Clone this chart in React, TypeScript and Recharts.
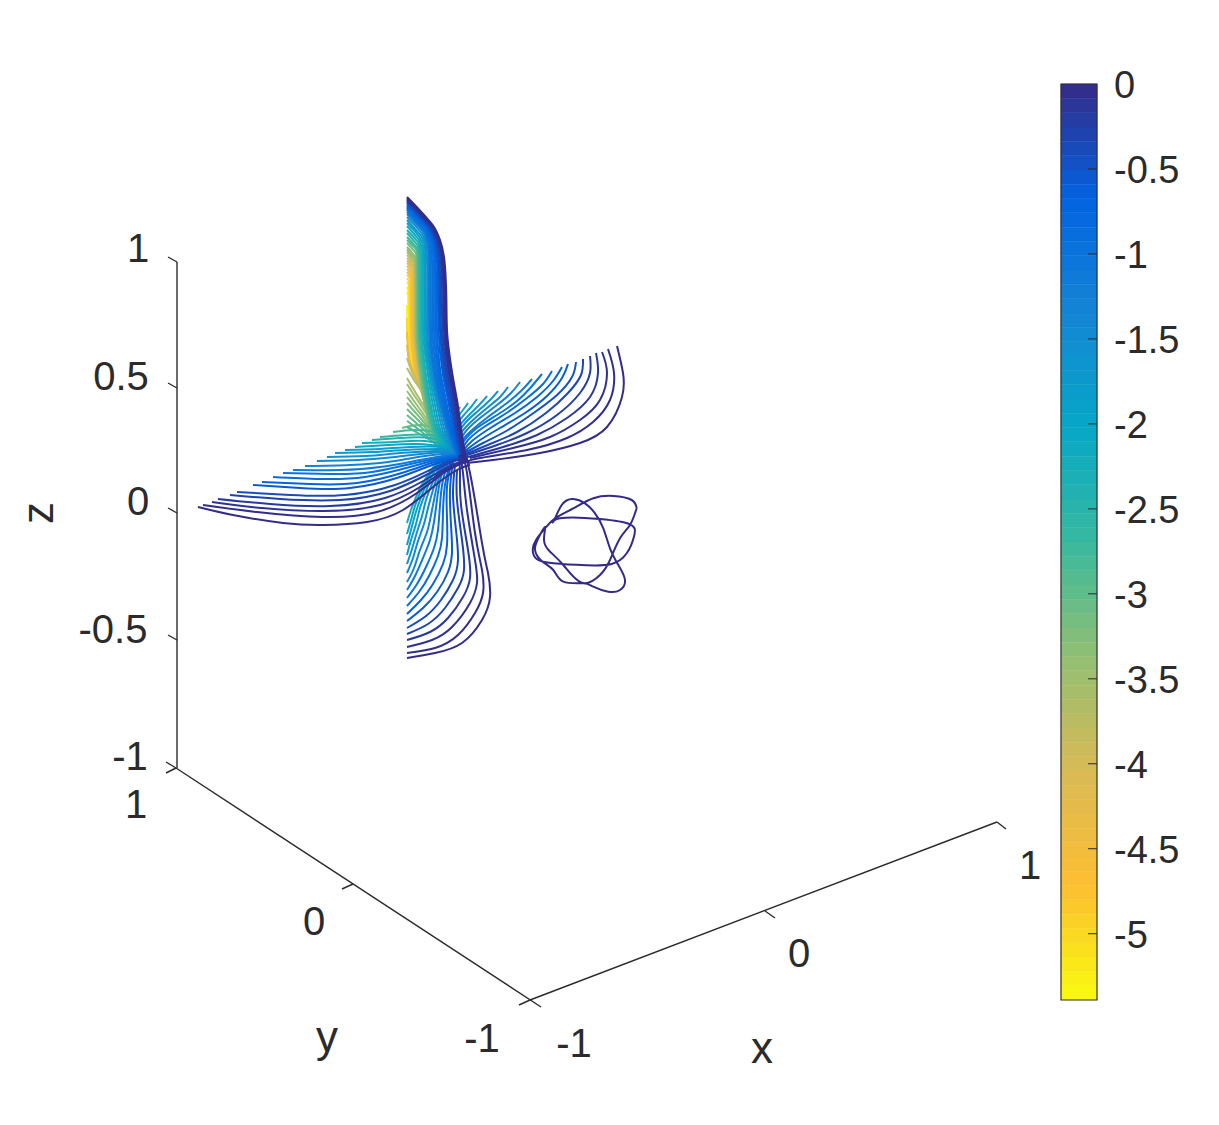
import React from "react";
import { ComposedChart, Line, XAxis, YAxis, ReferenceArea, ReferenceDot } from "recharts";

// Colour scale stops, light (low) to dark (0)
const scaleStops = ["#f9fb0e", "#fdbe32", "#d9ba56", "#92bf73", "#38b99e", "#06a7c6", "#1485d4", "#0363e1", "#352a87"];
const scaleMin = -5.39;
const colorbarTicks = [0, -0.5, -1, -1.5, -2, -2.5, -3, -3.5, -4, -4.5, -5];
const colorbarEnds = [0, -5.39];

// Projected curves (x,y pairs in the picture's plane) and their levels
const topLevels = [-0.02, -0.06, -0.12, -0.2, -0.3, -0.4, -0.5, -0.62, -0.75, -0.85, -0.92, -0.96, -1, -1.15, -1.3, -1.5, -1.7, -1.9, -2.1, -2.3, -2.5, -2.7, -2.9, -3.1, -3.3, -3.45, -3.6, -3.75, -3.9, -4.05, -4.2, -4.35, -4.5, -4.65, -4.8, -4.95, -5.1, -5.25, -5.39, -5.3, -5, -4.6, -4.2, -3.9, -3.7, -3.6, -3.5, -3.4, -3.3, -3.2, -3.1, -3, -2.9, -2.8];
const topCurves = [
  [407,197,424,215,434,227,440,240,444,257,446,285,447,330,452.5,375,457,400,462,435,466,460],
  [407,198,423.4,215.6,433.5,227,439.4,240,442.9,256.5,444.8,284,446,330,451,375,456,400,461,435,465,460],
  [407,199,423,216,432.8,227.5,438.5,240,442,256,443.9,283,445,330,450,375,455,400,460,435,464,460],
  [407,200,422.5,217,432,228,437.7,240,441,255.5,442.9,281,444,330,449,375,454,400,459,435,463,460],
  [407,201,422,217,431,227.6,436.5,239,439.7,254,441.4,279,442.5,330,447.5,375,452.5,400,458,435,463,460],
  [407,202,421.3,217.3,430,227.5,435.2,238.7,438.3,253,440,277,441,330,446,375,451,400,457,435,462,460],
  [407,203,420.9,218,429.4,227.8,434.4,238.6,437.4,252.5,439,276,440,330,444.5,375,449.5,400,456,435,462,460],
  [407,204.5,420.2,218.7,428.4,228,433.1,238.5,436,252,437.6,274,438.5,330,443,375,448,400,454.5,435,461,460],
  [407,206,419.6,219.5,427.4,228.5,431.9,238.4,434.6,251,436,272,437,330,441,375,446,400,453,435,460,460],
  [407,207,419.2,220.2,426.9,229,431.2,238.6,433.8,251,435,271,435.5,330,439.5,375,444.5,400,452,435,460,460],
  [407,208,418.9,220.8,426.2,229.4,430.3,238.8,432.7,250.8,433.7,270.5,434,330,438.5,375,443.5,400,451.5,435,459.5,460],
  [407,209,418.4,221.4,425.6,229.8,429.4,239,431.4,250.6,432.2,270,432.5,330,437,375,442.3,400,451.2,435,459.2,460],
  [407,210,418,222,425,230.3,428.5,239,430,250.5,430.7,269,431,330,435.5,375,441,400,451,435,459,460],
  [407,212,417.5,223.5,424,231,427.5,240,429,250,429.7,268,430,330,434.5,375,440,400,449.5,435,458,460],
  [407,214,417,224.8,423,232,426.3,240,428,250,428.7,267,429,330,433.5,375,439,400,448,435,457,460],
  [407,217,416.5,227,422,234,425,241,426.5,251,427.2,266.5,427.5,330,432,375,437.5,400,446,435,456,460],
  [407,220,416,230,421,236,424,243,425.3,252,425.7,290,426,330,431,375,436,400,444,435,455,460],
  [407,223,415.5,232,420,238,423,246,424,254,424.3,290,424.5,330,429.5,375,434,400,442,435,454,460],
  [407,226,415,235,419,240,421.5,247,422.6,255,422.8,290,423,330,428,375,432,400,440,435,452,460],
  [407,230,414.5,238,418.5,243,420.5,250,421.2,258,421.3,290,421.5,330,426,375,430,400,438,435,450,460],
  [407,233,414,241,417.5,245,419.3,252,419.8,260,419.9,290,420,330,424.5,375,428.5,400,436.5,435,448,460],
  [407,237,413.5,244,417,248,418.5,255,418.8,290,419,330,423.5,375,427,400,435,435,446,460],
  [407,240,413,246,416.3,250,417.5,256,417.8,290,418,330,422,375,426,400,434,435,446,460],
  [407,243,412.5,249,415.7,253,416.6,259,416.8,290,417,330,421,375,425,400,433,435,445,460],
  [407,247,412.3,253,415,257,416,263,416.1,290,416.3,330,420.5,375,424,400,433,435,445,460],
  [407,249.5,412,255.5,414.8,259,415.7,265,415.9,290,416,330,420.2,375,424,400,433,435,445,460],
  [407,252,412,257.5,414.6,261,415.3,267,415.5,290,415.6,330,420,375,424,400,433,435,445,460],
  [407,255,411.8,260,414.3,263.5,415,269,415.1,290,415.2,330,419.5,375,424,400,433,435,445,460],
  [407,258,411.6,262.5,413.9,266,414.5,272,414.7,290,414.8,330,419,375,424,400,433,435,445,460],
  [407,260.5,411.3,265,413.4,268,414,274,414.3,290,414.4,330,418.5,375,424,399,433,435,445,460],
  [407,263,411,267,413,270,413.5,276,413.8,290,414,330,418,375,424,398,433,435,445,460],
  [407,266,410.5,269.5,412.5,272.5,412.9,278.5,413.1,290,413.2,330,417.5,375,424,397.5,433,435,445,460],
  [407,269,410,272,412,275,412.3,281,412.4,290,412.5,330,417,375,424,397,433,435,445,460],
  [407,272,409.5,274.5,411.2,277.5,411.5,283,411.6,292,411.7,330,416.2,374,424,396.5,433,435,445,460],
  [407,275,409,277,410.5,280,410.8,285,410.9,295,411,330,415.5,373,424,396,433,435,445,460],
  [407,278.5,408.8,280.5,409.8,283.5,410,296,410.2,330,414.8,371.5,424,395.5,433,435,445,460],
  [407,282,408.5,284,409,287,409.3,300,409.5,330,414,370,424,395,433,435,445,460],
  [407,287,408.2,290,408.6,295,408.8,310,409,330,413.5,369,424,394.5,433,435,445,460],
  [407,292,408,296,408.3,310,408.5,330,413,368,424,394,433,435,445,460],
  [407,305,407.3,315,407.5,330,411,365,423,393,433,432,445,460],
  [407,318,407.5,335,410,361,422,392,433,432,445,460],
  [407,332,409,358,421,390,432,430,445,460],
  [407,345,409,360,420,388,432,428,445,460],
  [407,358,412,372,420,387,432,426,445,460],
  [407,368,414,380,422,392,433,424,445,460],
  [407,378,414,390,422,403,432,420,445,442,458,458],
  [407,384,414,395,422,407,432,423,445,444,458,458],
  [407,391,414,401,422,412,432,427,445,446,458,458],
  [407,397,414,406,422,416,432,430,445,447,458,458],
  [407,403,414,411,422,420,432,433,445,449,458,458],
  [407,409,414,416,422,424,432,436,445,450,458,458],
  [407,415,414,421,422,428,432,438,445,451,458,458],
  [407,421,414,426,422,432,432,441,445,452,458,458],
  [407,427,418,433,430,440,445,450,458,458],
];

const bottomLevels = [-0.02, -0.05, -0.1, -0.18, -0.28, -0.4, -0.55, -0.7, -0.85, -1, -1.15, -1.3, -1.45, -1.6, -1.75, -1.9, -2.05, -2.2];
const bottomCurves = [
  [462,455,470,473,482,543,488,573,490,597,482,620,462,643,435,653,407,658],
  [461,455,467,473,475,533,482,570,483,593,475,613,458,635,435,648,407,653],
  [460,455,463,473,467,510,475,560,477,583,470,603,452,627,432,640,407,647],
  [459,455,460,475,461,505,468,550,470,578,463,597,448,618,430,632,407,640],
  [457,470,457,500,462,540,464,570,458,588,445,608,428,624,407,634],
  [455,465,453,495,456,530,458,560,453,580,441,600,426,616,407,628],
  [453,462,450,490,451,525,452,552,448,572,437,592,423,608,407,621],
  [452,460,447,487,447,518,447,545,443,564,433,584,421,600,407,614],
  [451,460,445,485,443,512,442,538,438,556,429,576,419,592,407,606],
  [450,458,443,480,440,505,438,530,434,548,426,567,417,584,407,598],
  [449,457,441,477,437,500,434,522,430,540,423,558,415,576,407,590],
  [448,456,440,474,435,495,431,515,427,532,420,550,414,568,407,582],
  [447,456,439,472,433,490,428,508,424,524,418,541,413,558,407,573],
  [446,455,438,470,432,484,426,500,422,516,417,532,412,549,407,564],
  [445,454,437,467,431,478,425,494,420,508,416,524,411,540,407,555],
  [437,464,431,473,425,487,420,500,415,515,411,530,407,545],
  [440,460,432,469,426,480,420,493,415,506,411,520,407,534],
  [444,457,436,465,428,475,421,486,416,497,411,510,407,523],
];

const leftLevels = [-0.02, -0.05, -0.1, -0.18, -0.28, -0.4, -0.55, -0.7, -0.85, -1, -1.15, -1.3, -1.45, -1.6, -1.75, -1.9, -2.05, -2.2, -2.4, -2.6, -2.8, -3.1];
const leftCurves = [
  [198,507,233,515,283,523,323,525,367,522,403,510,433,487,457,470,470,465],
  [203,505,257,512,323,517,377,512,417,493,445,472,468,461],
  [212,502,262,508,323,511,380,505,420,487,447,469,468,460],
  [218,499,270,504,330,506,385,498,425,480,450,466,468,459],
  [230,495,280,499,340,500,390,491,428,474,452,462,468,458],
  [237,492,290,495,345,495,395,485,430,470,453,460,468,457],
  [253,485,300,488,350,488,400,477,435,464,468,456],
  [262,482,310,484,357,483,405,472,438,461,468,455],
  [273,477,320,479,365,477,410,467,440,459,468,454],
  [283,473,330,474,372,472,415,463,445,457,468,453],
  [293,470,340,470,380,467,420,460,450,455,468,453],
  [305,466,350,465,388,462,425,456,468,452],
  [317,461,358,460,395,457,430,453,468,451],
  [327,457,365,456,400,453,435,451,468,450],
  [335,453,372,452,405,450,440,449,468,450],
  [345,450,380,449,410,447,445,447,468,450],
  [355,447,388,445,418,444,450,447],
  [362,443,395,442,425,441,455,447],
  [372,440,400,438,430,438,458,448],
  [380,437,405,435,435,436,460,449],
  [393,432,415,430,440,434,462,450],
  [402,428,422,425,445,434,464,452],
];

const rightLevels = [-0.02, -0.05, -0.1, -0.16, -0.24, -0.34, -0.46, -0.6, -0.74, -0.88, -1.02, -1.16, -1.3, -1.45, -1.6, -1.75, -1.9, -2.1, -2.3];
const rightCurves = [
  [617,346,623,373,622,397,607,427,580,443,540,453,493,460,467,463],
  [608,349,614,373,610,400,593,422,567,438,527,450,480,458,467,462],
  [602,352,607,373,600,400,580,420,550,437,513,448,470,458],
  [596,353,598,373,590,397,567,418,537,435,503,447,468,457],
  [590,356,590,373,580,393,557,415,527,433,497,445,467,455],
  [583,359,581,375,568,393,546,413,517,432,490,444,466,454],
  [576,362,572,377,557,395,535,412,508,430,483,443,465,453],
  [568,364,562,378,547,396,525,413,500,428,477,442,464,452],
  [562,367,553,381,537,397,515,413,492,427,472,441,463,451],
  [552,371,543,384,527,398,505,414,484,427,468,440,462,450],
  [542,374,532,386,517,401,497,415,477,428,464,441,460,450],
  [532,379,522,390,507,403,488,417,472,430,461,442,459,450],
  [520,382,511,393,497,405,480,418,466,431,458,444],
  [508,387,500,397,487,408,473,420,461,433,456,445],
  [498,391,490,400,478,411,466,422,457,435,454,446],
  [487,396,480,404,470,414,460,425,453,437,452,447],
  [477,399,471,407,463,416,455,427,450,438],
  [468,403,463,410,456,419,450,429,448,440],
  [460,407,455,414,450,422,446,432,445,442],
];

const knotCurve = [
  636.7,508.3,631.7,500,613.3,496,593.3,498.3,573.3,508.3,555,518.3,545,528.3,536,540,532.7,550,536.7,559,553.3,563.3,586.7,565.3,611.7,564,626.7,553.3,634.3,535.2,630,524.3,600,519,560,518.3,553.3,521.7,561.7,505,573.3,499,585,503.3,595,513.3,603.3,528.3,610,548.3,618.3,565,625,580,620,590,608.3,591.7,593.3,586.7,583.3,583.3,563.3,581.7,553.3,570,541.7,561,535,550,538.3,538.3,545,526.7,544,540,550,551.7,563.3,565,581.7,582.7,600,575,610,560,620,538.3,630,525,636.7,508.3,
];

// Box axes and their ticks, as x1,y1,x2,y2 in the same plane
const axisSegments = [
  [177,262,177,768], [176,768,541,1007], [530,1000,997,822],
  [168,257,177,262], [168,383,177,388], [168,508,177,513], [168,635,177,640], [166,773,176,768], [166,762,176,768],
  [342,889,353,884], [519,1005,530,1000], [765,911,775,918], [997,822,1006,829],
];

const tickLabelText = ["1", "0.5", "0", "-0.5", "-1", "1", "0", "-1", "-1", "0", "1"];
const tickLabelX = [138, 121, 138, 113, 130, 136, 314, 482, 574, 799, 1030];
const tickLabelY = [248, 376, 501, 629, 756, 804, 921, 1038, 1043, 953, 865];
const axisLetters = ["x", "y", "z"];
const axisLetterX = [762, 327, 37];
const axisLetterY = [1047, 1036, 513];

const FONT = "'Liberation Sans', Arial, sans-serif";
const INK = "#2b2b2b";

function hexToRgb(h: string) {
  return [1, 3, 5].map((i) => parseInt(h.slice(i, i + 2), 16));
}
function colorOf(v: number) {
  const t = Math.min(1, Math.max(0, (v - scaleMin) / -scaleMin)) * (scaleStops.length - 1);
  const i = Math.min(scaleStops.length - 2, Math.floor(t));
  const a = hexToRgb(scaleStops[i]);
  const b = hexToRgb(scaleStops[i + 1]);
  const f = t - i;
  const c = a.map((p, k) => Math.round(p + (b[k] - p) * f));
  return `rgb(${c[0]},${c[1]},${c[2]})`;
}
function toPoints(flat: number[]) {
  const out: { px: number; py: number }[] = [];
  for (let i = 0; i < flat.length; i += 2) out.push({ px: flat[i], py: flat[i + 1] });
  return out;
}

const families: [number[], number[][], string][] = [
  [topLevels, topCurves, "monotoneY"],
  [bottomLevels, bottomCurves, "natural"],
  [leftLevels, leftCurves, "natural"],
  [rightLevels, rightCurves, "natural"],
];
const curves = families
  .flatMap(([levels, paths, kind]) => paths.map((p, i) => ({ v: levels[i], kind, data: toPoints(p) })))
  .sort((a, b) => a.v - b.v);

const bands = Array.from({ length: 64 }, (_, i) => ({
  hi: (scaleMin * i) / 64,
  lo: (scaleMin * (i + 1)) / 64,
  fill: colorOf((scaleMin * (i + 0.5)) / 64),
}));
const colorbarData = colorbarEnds.map((v, i) => ({ pos: i, v }));

function ColorbarTick(props: any) {
  const { x, y, payload } = props;
  const v = payload.value;
  return (
    <g>
      {v !== 0 && <line x1={x - 9} x2={x} y1={y} y2={y} stroke={INK} strokeWidth={1} />}
      <text x={x + 17} y={y + 14} fontFamily={FONT} fontSize={38} fill={INK}>
        {String(v)}
      </text>
    </g>
  );
}

export default function App() {
  return (
    <div style={{ position: "absolute", left: 0, top: 0, width: 1219, height: 1125, background: "#fff" }}>
      <div style={{ position: "absolute", left: 0, top: 0 }}>
        <ComposedChart width={1219} height={1125} margin={{ top: 0, right: 0, bottom: 0, left: 0 }}>
          <XAxis type="number" dataKey="px" domain={[0, 1219]} hide />
          <YAxis type="number" domain={[0, 1125]} reversed hide />
          {axisSegments.map((s, i) => (
            <Line
              key={`a${i}`}
              data={[{ px: s[0], py: s[1] }, { px: s[2], py: s[3] }]}
              dataKey="py"
              stroke={INK}
              strokeWidth={1.4}
              dot={false}
              activeDot={false}
              isAnimationActive={false}
            />
          ))}
          {curves.map((c, i) => (
            <Line
              key={`c${i}`}
              data={c.data}
              dataKey="py"
              type={c.kind as any}
              stroke={colorOf(c.v)}
              strokeWidth={2}
              dot={false}
              activeDot={false}
              isAnimationActive={false}
            />
          ))}
          <Line
            data={toPoints(knotCurve)}
            dataKey="py"
            type="natural"
            stroke={scaleStops[8]}
            strokeWidth={2}
            dot={false}
            activeDot={false}
            isAnimationActive={false}
          />
          {tickLabelText.map((t, i) => (
            <ReferenceDot
              key={`t${i}`}
              x={tickLabelX[i]}
              y={tickLabelY[i]}
              r={0}
              stroke="none"
              fill="none"
              ifOverflow="visible"
              label={{ value: t, position: "center", fontFamily: FONT, fontSize: 40, fill: INK }}
            />
          ))}
          {axisLetters.map((t, i) => (
            <ReferenceDot
              key={`l${i}`}
              x={axisLetterX[i]}
              y={axisLetterY[i]}
              r={0}
              stroke="none"
              fill="none"
              ifOverflow="visible"
              label={{ value: t, position: "center", fontFamily: FONT, fontSize: 44, fill: INK, angle: t === "z" ? -90 : 0 }}
            />
          ))}
        </ComposedChart>
      </div>
      <div style={{ position: "absolute", left: 1040, top: 60 }}>
        <ComposedChart data={colorbarData} width={170} height={960} margin={{ top: 24, right: 0, bottom: 20, left: 21 }}>
          <XAxis type="number" dataKey="pos" domain={[0, 1]} hide />
          <YAxis
            type="number"
            orientation="right"
            width={113}
            domain={[scaleMin, 0]}
            ticks={colorbarTicks}
            interval={0}
            axisLine={false}
            tickLine={false}
            tickSize={0}
            tickMargin={0}
            tick={<ColorbarTick />}
          />
          <Line dataKey="v" stroke="none" dot={false} activeDot={false} isAnimationActive={false} />
          {bands.map((b, i) => (
            <ReferenceArea key={i} x1={0} x2={1} y1={b.lo} y2={b.hi} fill={b.fill} fillOpacity={1} stroke={b.fill} strokeWidth={0.5} ifOverflow="visible" />
          ))}
          <ReferenceArea x1={0} x2={1} y1={scaleMin} y2={0} fill="none" stroke="#333" strokeWidth={1.2} ifOverflow="visible" />
        </ComposedChart>
      </div>
    </div>
  );
}
